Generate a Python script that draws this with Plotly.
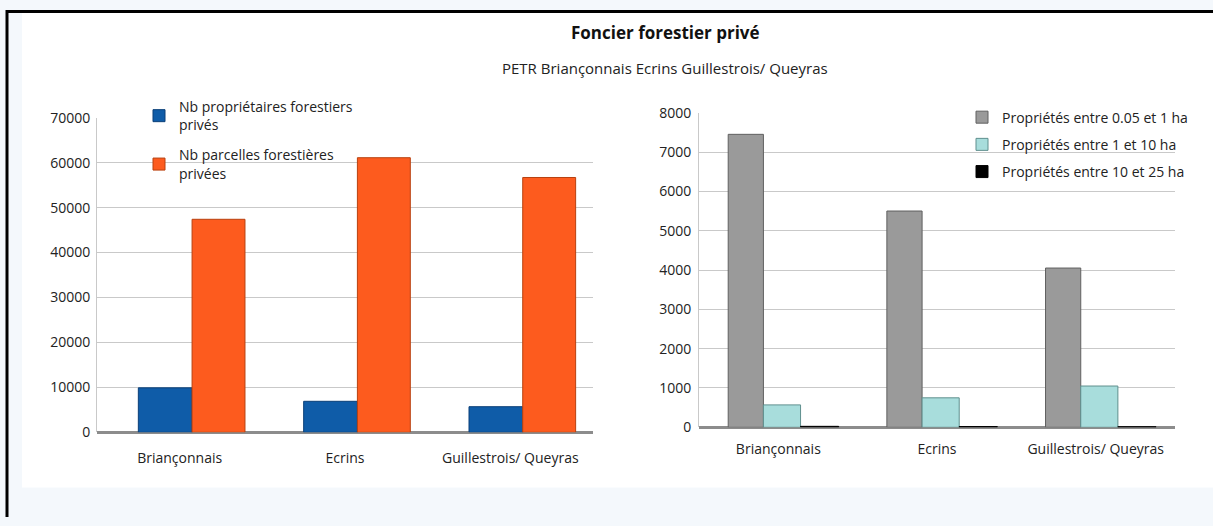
import plotly.graph_objects as go

categories = ["Briançonnais", "Ecrins", "Guillestrois/ Queyras"]

# Left chart
proprietaires = [9900, 6900, 5700]
parcelles = [47400, 61100, 56700]

# Right chart
prop_005_1 = [7450, 5500, 4050]
prop_1_10 = [570, 750, 1050]
prop_10_25 = [25, 20, 15]

W, H = 1213, 526
FONT = "Open Sans"

def px_x(p):
    return p / W

def Y(t):
    # map a target pixel row to the layout pixel row
    return (t - 10.5) / 0.962

def px_y(p):
    return min(1.0, max(0.0, 1 - Y(p) / H))

fig = go.Figure()

fig.add_trace(go.Bar(x=categories, y=proprietaires, name="Nb propriétaires forestiers<br>privés",
                     offset=-0.25, width=0.325,
                     marker=dict(color="#0f5ca8", line=dict(color="#0a3f78", width=1)),
                     xaxis="x", yaxis="y", legend="legend", legendgroup="a"))
fig.add_trace(go.Bar(x=categories, y=parcelles, name="Nb parcelles forestières<br>privées",
                     offset=0.075, width=0.32,
                     marker=dict(color="#fd5b1e", line=dict(color="#b8400f", width=1)),
                     xaxis="x", yaxis="y", legend="legend", legendgroup="b"))

fig.add_trace(go.Bar(x=categories, y=prop_005_1, name="Propriétés entre 0.05 et 1 ha",
                     offset=-0.316, width=0.222,
                     marker=dict(color="#9a9a9a", line=dict(color="#606060", width=1)),
                     xaxis="x2", yaxis="y2", legend="legend2", legendgroup="c"))
fig.add_trace(go.Bar(x=categories, y=prop_1_10, name="Propriétés entre 1 et 10 ha",
                     offset=-0.094, width=0.234,
                     marker=dict(color="#a8dddc", line=dict(color="#5f8f8e", width=1)),
                     xaxis="x2", yaxis="y2", legend="legend2", legendgroup="d"))
fig.add_trace(go.Bar(x=categories, y=prop_10_25, name="Propriétés entre 10 et 25 ha",
                     offset=0.14, width=0.24,
                     marker=dict(color="#000000", line=dict(color="#000000", width=1)),
                     xaxis="x2", yaxis="y2", legend="legend2", legendgroup="e"))

axis_font = dict(family=FONT, size=14, color="#222222")

fig.update_layout(
    width=W, height=H,
    margin=dict(l=0, r=0, t=0, b=0),
    paper_bgcolor="#f4f8fc",
    plot_bgcolor="rgba(0,0,0,0)",
    font=dict(family=FONT, color="#222222"),
    barmode="overlay",
    xaxis=dict(domain=[px_x(97), px_x(593)], anchor="y", tickfont=axis_font, range=[-0.5, 2.5],
               ticklabelstandoff=16, showgrid=False, showline=False, ticks=""),
    yaxis=dict(domain=[px_y(432), px_y(118)], anchor="x", range=[0, 70000], dtick=10000,
               tickfont=axis_font, showgrid=True, gridcolor="#c9c9c9", gridwidth=1,
               zeroline=True, zerolinecolor="#8c8c8c", zerolinewidth=3,
               showline=True, linecolor="#c9c9c9", ticklabelstandoff=3, tickformat="d"),
    xaxis2=dict(domain=[px_x(699), px_x(1175)], anchor="y2", tickfont=axis_font, range=[-0.5, 2.5],
                ticklabelstandoff=12, showgrid=False, showline=False, ticks=""),
    yaxis2=dict(domain=[px_y(427), px_y(113)], anchor="x2", range=[0, 8000], dtick=1000,
                tickfont=axis_font, showgrid=True, gridcolor="#c9c9c9", gridwidth=1,
                zeroline=True, zerolinecolor="#8c8c8c", zerolinewidth=3,
                showline=True, linecolor="#c9c9c9", ticklabelstandoff=4, tickformat="d"),
    legend=dict(x=px_x(139), y=1 - 84 / H, xanchor="left", yanchor="top",
                bgcolor="rgba(255,255,255,0)", font=dict(family=FONT, size=14, color="#222222"),
                itemwidth=30, tracegroupgap=9, traceorder="grouped"),
    legend2=dict(x=px_x(962), y=1 - 95 / H, xanchor="left", yanchor="top",
                 bgcolor="rgba(255,255,255,0)", font=dict(family=FONT, size=14, color="#222222"),
                 itemwidth=30, tracegroupgap=6, traceorder="grouped"),
    shapes=[
        dict(type="rect", xref="paper", yref="paper", x0=px_x(22), x1=1, y0=px_y(487), y1=1,
             fillcolor="#ffffff", line=dict(width=0), layer="below"),
        dict(type="line", xref="paper", yref="paper", x0=px_x(7), x1=px_x(7), y0=0, y1=1,
             line=dict(color="#000000", width=3)),
        dict(type="line", xref="paper", yref="paper", x0=px_x(6), x1=1, y0=1 - 1.5 / H, y1=1 - 1.5 / H,
             line=dict(color="#000000", width=3)),
    ],
    annotations=[
        dict(text="<b>Foncier forestier privé</b>", xref="paper", yref="paper",
             x=px_x(665), y=px_y(33), xanchor="center", yanchor="middle", showarrow=False,
             font=dict(family=FONT, size=17, color="#111111")),
        dict(text="PETR Briançonnais Ecrins Guillestrois/ Queyras", xref="paper", yref="paper",
             x=px_x(665), y=px_y(68), xanchor="center", yanchor="middle", showarrow=False,
             font=dict(family=FONT, size=15, color="#222222")),
    ],
)

fig.write_html("out.html",
               config={"displayModeBar": False, "responsive": False},
               post_script="document.documentElement.style.margin='0';document.body.style.margin='0';document.body.style.padding='0';document.body.style.overflow='hidden';document.body.style.background='#ffffff';")
